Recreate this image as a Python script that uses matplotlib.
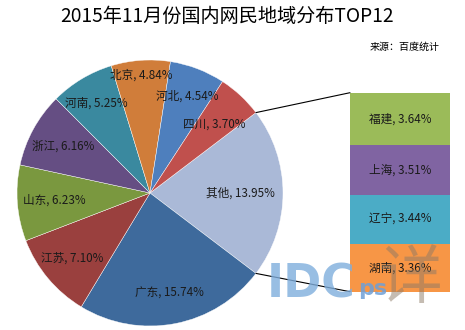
import matplotlib
matplotlib.use("Agg")
import numpy as np
import matplotlib.pyplot as plt
from matplotlib.patches import ConnectionPatch

plt.rcParams['font.family'] = ['Noto Sans CJK SC', 'DejaVu Sans']

# Share of Chinese internet users by province, Nov 2015 (%)
pie_labels = ["其他", "广东", "江苏", "山东", "浙江", "河南", "北京", "河北", "四川"]
pie_values = [13.95, 15.74, 7.10, 6.23, 6.16, 5.25, 4.84, 4.54, 3.70]

# Breakdown of the "其他" slice
bar_labels = ["福建", "上海", "辽宁", "湖南"]
bar_values = [3.64, 3.51, 3.44, 3.36]

title = "2015年11月份国内网民地域分布TOP12"
source = "来源：百度统计"

pie_colors = ["#AAB9D7", "#3E6A9C", "#9A403E", "#7A983F", "#654E83",
              "#3A899F", "#D07D3A", "#4E7FBD", "#C0504D"]
bar_colors = ["#9BBB59", "#8064A2", "#4BACC6", "#F79646"]
label_radius = [0.68, 0.77, 0.76, 0.72, 0.74, 0.79, 0.89, 0.78, 0.71]
label_size = 8.4

W, H = 465, 330
fig = plt.figure(figsize=(W / 100, H / 100), dpi=100)
fig.patch.set_facecolor("white")

# --- pie ---
cx, cy, r = 150, 137, 133
ax = fig.add_axes([(cx - r) / W, (cy - r) / H, 2 * r / W, 2 * r / H])
other_angle = pie_values[0] / sum(pie_values) * 360
start = other_angle / 2
wedges, _ = ax.pie(pie_values, colors=pie_colors, startangle=start,
                   counterclock=False, radius=1,
                   wedgeprops=dict(edgecolor="white", linewidth=0.3))
ax.set_xlim(-1, 1)
ax.set_ylim(-1, 1)
ax.set_aspect("equal")
ax.axis("off")

for w, lab, val, rd in zip(wedges, pie_labels, pie_values, label_radius):
    mid = np.deg2rad((w.theta1 + w.theta2) / 2)
    ax.text(rd * np.cos(mid), rd * np.sin(mid), f"{lab}, {val:.2f}%",
            ha="center", va="center", fontsize=label_size, color="#1a1a1a")

# --- stacked bar for "其他" ---
bx = fig.add_axes([350 / W, 38.3 / H, 100 / W, 199 / H])
bottom = 0.0
for lab, val, col in reversed(list(zip(bar_labels, bar_values, bar_colors))):
    bx.bar(0, val, width=1, bottom=bottom, color=col, edgecolor="none")
    bx.text(0, bottom + val / 2, f"{lab}, {val:.2f}%", ha="center",
            va="center", fontsize=label_size, color="#1a1a1a")
    bottom += val
bx.set_xlim(-0.5, 0.5)
bx.set_ylim(0, sum(bar_values))
bx.axis("off")

# connector lines from the "其他" slice edges to the bar corners
theta1, theta2 = wedges[0].theta1, wedges[0].theta2
for ang, ybar in ((max(theta1, theta2), sum(bar_values)), (min(theta1, theta2), 0)):
    a = np.deg2rad(ang)
    con = ConnectionPatch(xyA=(np.cos(a), np.sin(a)), coordsA=ax.transData,
                          xyB=(-0.5, ybar), coordsB=bx.transData,
                          color="black", linewidth=0.8)
    fig.add_artist(con)

# --- titles ---
fig.text(227 / W, 1 - 16.5 / H, title, ha="center", va="center",
         fontsize=13.8, color="black")
fig.text(440 / W, 1 - 47 / H, source, ha="right", va="center",
         fontsize=7.2, color="black")

# --- watermark ---
fig.text(311 / W, 1 - 285 / H, "IDC", ha="center", va="center",
         fontsize=33, fontweight="bold", color="#7FAEDD", alpha=0.8,
         family=["DejaVu Sans"], zorder=10)
fig.text(373 / W, 1 - 289 / H, "ps", ha="center", va="center",
         fontsize=16, fontweight="bold", color="#6E9FD6", alpha=0.85,
         family=["DejaVu Sans"], zorder=10)
fig.text(410 / W, 1 - 280 / H, "详", ha="center", va="center",
         fontsize=46, color="#8C7A66", alpha=0.5, zorder=11)

fig.savefig("out.png", dpi=100)
